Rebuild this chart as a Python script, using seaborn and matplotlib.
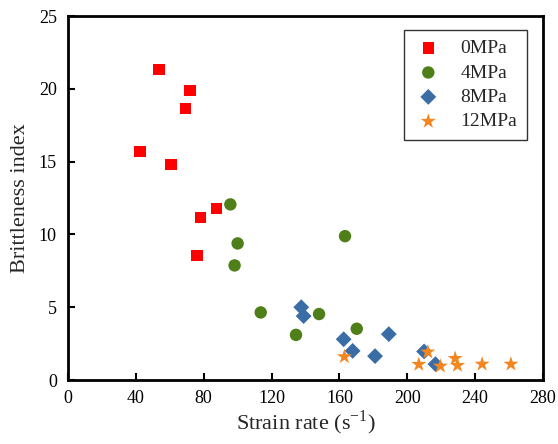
import matplotlib
matplotlib.use("Agg")
import matplotlib.pyplot as plt
import seaborn as sns
import pandas as pd

groups = ["0MPa", "4MPa", "8MPa", "12MPa"]
x_0 = [53.6, 71.9, 69.3, 42.4, 60.7, 87.6, 78.2, 76.0]
y_0 = [21.3, 19.86, 18.65, 15.67, 14.78, 11.79, 11.17, 8.53]
x_4 = [95.7, 100.0, 98.2, 113.6, 134.4, 148.0, 163.3, 170.2]
y_4 = [12.06, 9.38, 7.87, 4.64, 3.10, 4.53, 9.88, 3.52]
x_8 = [137.5, 138.9, 162.5, 167.8, 181.0, 189.1, 209.9, 216.6]
y_8 = [5.0, 4.39, 2.80, 2.0, 1.64, 3.15, 1.96, 1.09]
x_12 = [162.9, 206.8, 212.1, 219.5, 228.2, 229.6, 244.1, 261.1]
y_12 = [1.60, 1.07, 1.92, 0.95, 1.48, 1.0, 1.09, 1.09]

xs = [x_0, x_4, x_8, x_12]
ys = [y_0, y_4, y_8, y_12]
rows = []
for g, xv, yv in zip(groups, xs, ys):
    for a, b in zip(xv, yv):
        rows.append({"x": a, "y": b, "g": g})
df = pd.DataFrame(rows)

sns.set_style("ticks")
plt.rcParams['font.family'] = ['Liberation Serif', 'DejaVu Serif']
plt.rcParams['mathtext.fontset'] = 'custom'
plt.rcParams['mathtext.rm'] = 'Liberation Serif'

palette = {"0MPa": "#FF0000", "4MPa": "#4E7F18", "8MPa": "#3A6DA6", "12MPa": "#F5861F"}
markers = {"0MPa": "s", "4MPa": "o", "8MPa": "D", "12MPa": "*"}
sizes_map = {"0MPa": 65, "4MPa": 80, "8MPa": 65, "12MPa": 130}

fig = plt.figure(figsize=(5.58, 4.44), dpi=100)
ax = fig.add_axes([68/558, 1 - 380/444, 475/558, 364/444])

for g in groups:
    sub = df[df.g == g]
    sns.scatterplot(data=sub, x="x", y="y", color=palette[g], marker=markers[g],
                    s=sizes_map[g], edgecolor="none", linewidth=0, ax=ax, label=g)

ax.set_xlim(0, 280)
ax.set_ylim(0, 25)
ax.set_xticks(range(0, 281, 40))
ax.set_yticks(range(0, 26, 5))
ax.tick_params(direction="in", length=5, width=1.5, labelsize=13, colors="black")
ax.tick_params(axis="y", pad=8)
ax.tick_params(axis="x", pad=7)
for sp in ax.spines.values():
    sp.set_linewidth(2)
    sp.set_color("black")
ax.set_xlabel("Strain rate (s$^{\\mathregular{-1}}$)", fontsize=16, labelpad=1)
ax.set_ylabel("Brittleness index", fontsize=16, labelpad=6)

leg = ax.legend(loc="upper right", bbox_to_anchor=(0.966, 0.962), frameon=True,
                fancybox=False, edgecolor="black", fontsize=14, handletextpad=0.9,
                borderpad=0.5, labelspacing=0.35, handlelength=1.5, borderaxespad=0)
leg.get_frame().set_linewidth(1)

fig.savefig("out.png", dpi=100)
